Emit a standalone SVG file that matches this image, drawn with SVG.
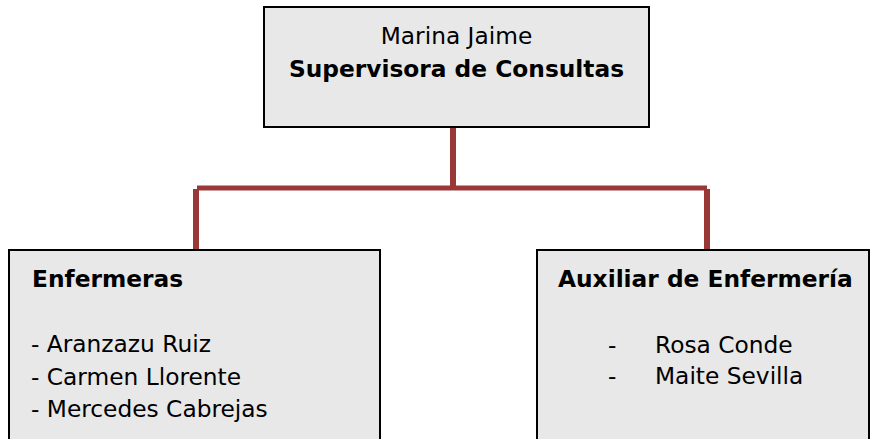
<svg xmlns="http://www.w3.org/2000/svg" width="871" height="439" viewBox="0 0 871 439">
  <style>
    .box { fill: #e8e8e8; stroke: #000; stroke-width: 2; }
    .t { font-family: "DejaVu Sans", Verdana, sans-serif; font-size: 23.3px; fill: #000; }
    .b { font-weight: bold; }
    .c { text-anchor: middle; }
    .conn { stroke: #9a3838; fill: none; }
  </style>
  <g id="connectors">
    <line class="conn" x1="453" y1="127" x2="453" y2="186" stroke-width="6"/>
    <line class="conn" x1="197" y1="188" x2="707" y2="188" stroke-width="5"/>
    <line class="conn" x1="196" y1="189" x2="196" y2="250" stroke-width="6"/>
    <line class="conn" x1="707" y1="189" x2="707" y2="250" stroke-width="6"/>
  </g>
  <g id="supervisora">
    <rect class="box" x="264" y="7" width="385" height="120"/>
    <text class="t c" x="456.5" y="44">Marina Jaime</text>
    <text class="t b c" x="456.5" y="77">Supervisora de Consultas</text>
  </g>
  <g id="enfermeras">
    <rect class="box" x="9" y="250" width="371" height="200"/>
    <text class="t b" x="32" y="287">Enfermeras</text>
    <text class="t" x="31" y="352">- Aranzazu Ruiz</text>
    <text class="t" x="31" y="385">- Carmen Llorente</text>
    <text class="t" x="31" y="417">- Mercedes Cabrejas</text>
  </g>
  <g id="auxiliar">
    <rect class="box" x="537" y="250" width="332" height="200"/>
    <text class="t b" x="558" y="287">Auxiliar de Enfermería</text>
    <text class="t" y="353"><tspan x="608">-</tspan><tspan x="655">Rosa Conde</tspan></text>
    <text class="t" y="384"><tspan x="608">-</tspan><tspan x="655">Maite Sevilla</tspan></text>
  </g>
</svg>
